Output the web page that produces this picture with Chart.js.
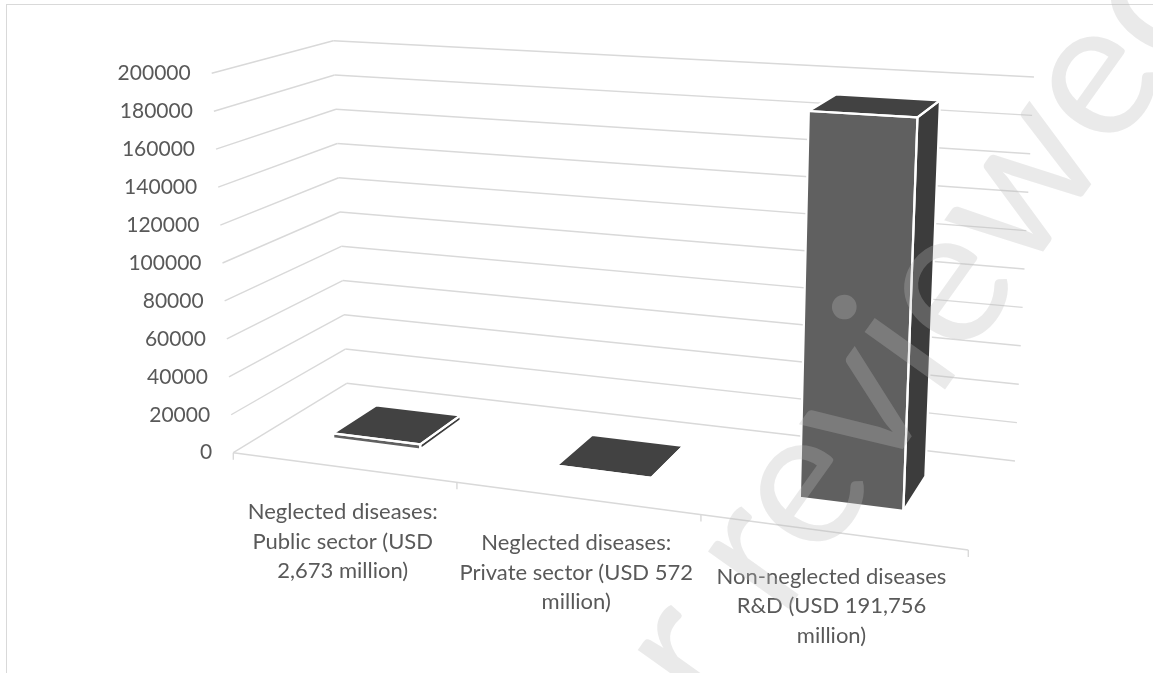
<!DOCTYPE html>
<html>
<head>
<meta charset="utf-8">
<script src="https://cdn.jsdelivr.net/npm/chart.js@4.4.1/dist/chart.umd.min.js"></script>
<style>
  html, body { margin: 0; padding: 0; background: #fff; }
  canvas { display: block; }
</style>
</head>
<body>
<canvas id="chart" width="1153" height="673"></canvas>
<script>
// =====================================================
// R&D spending - 3D column chart (Excel look)
// =====================================================

const categories = [
  ['Neglected diseases:', 'Public sector (USD', '2,673 million)'],
  ['Neglected diseases:', 'Private sector (USD 572', 'million)'],
  ['Non-neglected diseases', 'R&D (USD 191,756', 'million)']
];
const spending = [2673, 572, 191756];
const yTicks = [0, 20000, 40000, 60000, 80000, 100000, 120000, 140000, 160000, 180000, 200000];
const watermark = 'Not peer reviewed';

// screen corners of the 3D box: front-left, front-right, back-right, back-left
const FLOOR = [[233.3, 452.7], [968.3, 550], [1015, 461], [346.7, 383.3]];
const CEIL  = [[211.7, 73.3], [987, 119], [1034, 77], [333.3, 40.7]];
const DEPTH = [0.3, 0.7];

const COLORS = { front: '#606060', top: '#424242', side: '#3c3c3c', grid: '#d9d9d9', text: '#595959' };
const FONT = 'Lato, "Open Sans", sans-serif';

// unit square -> quad (perspective)
function quadMap(p) {
  const [x0, y0] = p[0], [x1, y1] = p[1], [x2, y2] = p[2], [x3, y3] = p[3];
  const dx1 = x1 - x2, dx2 = x3 - x2, dx3 = x0 - x1 + x2 - x3;
  const dy1 = y1 - y2, dy2 = y3 - y2, dy3 = y0 - y1 + y2 - y3;
  const det = dx1 * dy2 - dx2 * dy1;
  const g = (dx3 * dy2 - dx2 * dy3) / det, h = (dx1 * dy3 - dx3 * dy1) / det;
  const a = x1 - x0 + g * x1, b = x3 - x0 + h * x3;
  const d = y1 - y0 + g * y1, e = y3 - y0 + h * y3;
  return (u, w) => {
    const z = g * u + h * w + 1;
    return [(a * u + b * w + x0) / z, (d * u + e * w + y0) / z];
  };
}
const floorAt = quadMap(FLOOR), ceilAt = quadMap(CEIL);
const proj = (u, v, w) => {
  const f = floorAt(u, w), c = ceilAt(u, w);
  return [f[0] + (c[0] - f[0]) * v, f[1] + (c[1] - f[1]) * v];
};

function line(ctx, a, b) {
  ctx.beginPath(); ctx.moveTo(a[0], a[1]); ctx.lineTo(b[0], b[1]); ctx.stroke();
}

function area(pts) {
  let s = 0;
  pts.forEach((p, i) => { const q = pts[(i + 1) % pts.length]; s += p[0] * q[1] - q[0] * p[1]; });
  return s / 2;
}

function drawBox(ctx, u0, u1, v0, v1) {
  const [w0, w1] = DEPTH;
  const faces = [
    { c: COLORS.side,  p: [[u0, v0, w1], [u0, v0, w0], [u0, v1, w0], [u0, v1, w1]] },
    { c: COLORS.side,  p: [[u1, v0, w0], [u1, v0, w1], [u1, v1, w1], [u1, v1, w0]] },
    { c: COLORS.front, p: [[u0, v0, w0], [u1, v0, w0], [u1, v1, w0], [u0, v1, w0]] },
    { c: COLORS.top,   p: [[u0, v1, w0], [u1, v1, w0], [u1, v1, w1], [u0, v1, w1]] }
  ];
  const visible = faces.map(f => ({ c: f.c, pts: f.p.map(q => proj(...q)) })).filter(f => area(f.pts) < 0);
  visible.forEach(f => {
    ctx.beginPath();
    f.pts.forEach((p, i) => i ? ctx.lineTo(p[0], p[1]) : ctx.moveTo(p[0], p[1]));
    ctx.closePath();
    ctx.fillStyle = f.c;
    ctx.fill();
  });
  ctx.strokeStyle = '#fff';
  ctx.lineWidth = 2.2;
  ctx.lineJoin = 'round';
  visible.forEach(f => {
    ctx.beginPath();
    f.pts.forEach((p, i) => i ? ctx.lineTo(p[0], p[1]) : ctx.moveTo(p[0], p[1]));
    ctx.closePath();
    ctx.stroke();
  });
}

const box3d = {
  id: 'box3d',
  afterDraw(chart) {
    const ctx = chart.ctx;
    const xs = chart.scales.x, ys = chart.scales.y;
    const uOf = px => (px - xs.left) / (xs.right - xs.left);
    const vOf = val => (ys.bottom - ys.getPixelForValue(val)) / (ys.bottom - ys.top);
    ctx.save();

    // frame
    ctx.strokeStyle = COLORS.grid;
    ctx.lineWidth = 1;
    ctx.strokeRect(6.5, 4.5, 1160, 700);

    // walls
    ctx.strokeStyle = COLORS.grid;
    ctx.lineWidth = 1.4;
    yTicks.forEach(t => {
      const v = vOf(t);
      line(ctx, proj(0, v, 0), proj(0, v, 1));
      line(ctx, proj(0, v, 1), proj(1, v, 1));
    });
    // floor front edge and ticks
    line(ctx, proj(0, 0, 0), proj(1, 0, 0));
    const n = categories.length;
    for (let k = 0; k <= n; k++) {
      const p = proj(k / n, 0, 0);
      line(ctx, p, [p[0], p[1] + 7]);
    }

    // bars
    const meta = chart.getDatasetMeta(0);
    meta.data.forEach(bar => {
      const { x, y, base, width } = bar.getProps(['x', 'y', 'base', 'width'], true);
      drawBox(ctx, uOf(x - width / 2), uOf(x + width / 2), vOf(ys.getValueForPixel(base)), vOf(ys.getValueForPixel(y)));
    });

    // value axis labels
    ctx.fillStyle = COLORS.text;
    ctx.font = '21px ' + FONT;
    ctx.textAlign = 'right';
    ctx.textBaseline = 'middle';
    yTicks.forEach(t => {
      const p = proj(0, vOf(t), 0);
      ctx.fillText(String(t), p[0] - 21, p[1]);
    });

    // category labels
    ctx.font = '22px ' + FONT;
    ctx.textAlign = 'center';
    categories.forEach((lines, i) => {
      const p = proj(uOf(xs.getPixelForValue(i)), 0, 0);
      lines.forEach((s, j) => ctx.fillText(s, p[0], p[1] + 45 + j * 29.5));
    });

    // watermark
    ctx.translate(772, 632);
    ctx.rotate(-54.5 * Math.PI / 180);
    ctx.font = '195px ' + FONT;
    ctx.textAlign = 'center';
    ctx.textBaseline = 'alphabetic';
    ctx.fillStyle = 'rgba(187,187,187,0.3)';
    ctx.fillText(watermark, 0, 0);
    ctx.restore();
  }
};

new Chart(document.getElementById('chart'), {
  type: 'bar',
  data: {
    labels: categories,
    datasets: [{
      data: spending,
      backgroundColor: 'rgba(0,0,0,0)',
      borderWidth: 0,
      categoryPercentage: 1,
      barPercentage: 0.4
    }]
  },
  options: {
    responsive: false,
    animation: false,
    devicePixelRatio: 1,
    layout: { padding: 0 },
    plugins: { legend: { display: false }, tooltip: { enabled: false } },
    scales: {
      x: { display: false, offset: true },
      y: { display: false, min: 0, max: 200000, ticks: { stepSize: 20000 } }
    }
  },
  plugins: [box3d]
});
</script>
</body>
</html>
